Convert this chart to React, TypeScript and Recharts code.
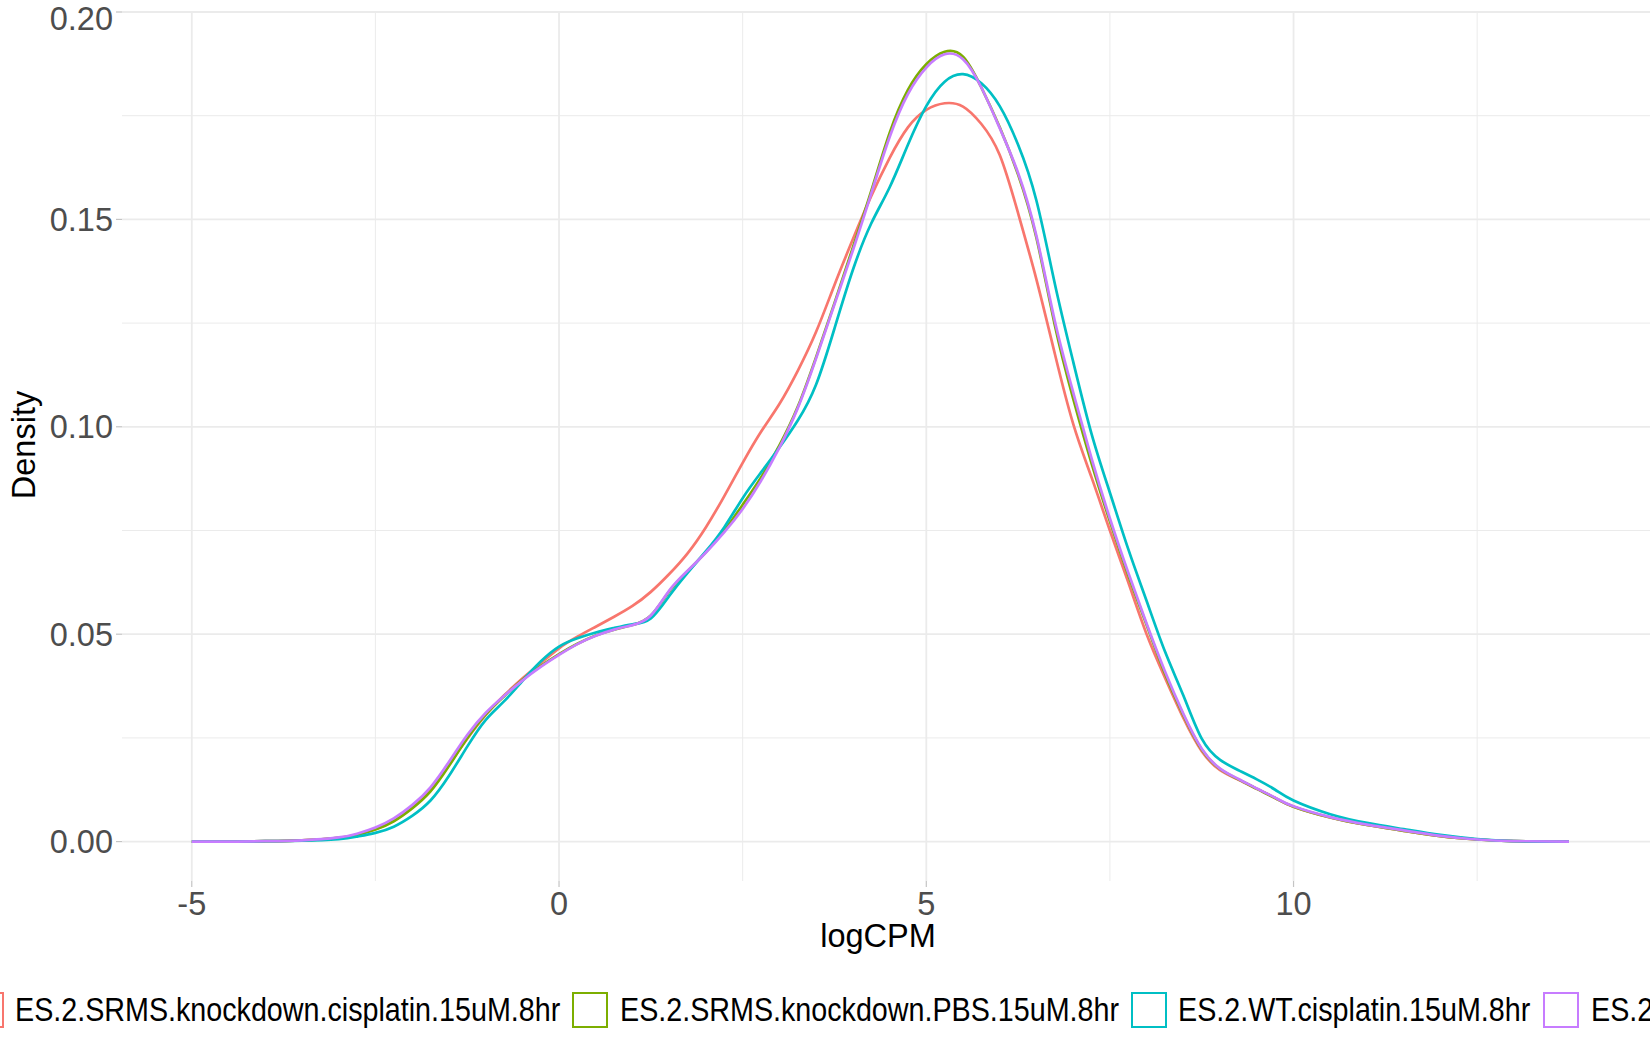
import { LineChart, Line, XAxis, YAxis, ReferenceLine } from "recharts";

// logCPM grid the densities were read on
const logCPM = [
  -5, -4.5, -4, -3.5, -3, -2.75, -2.5, -2.25, -2, -1.75, -1.5, -1.25, -1, -0.75, -0.5, -0.25,
  0, 0.25, 0.5, 0.75, 1, 1.25, 1.5, 1.75, 2, 2.25, 2.5, 2.75, 3, 3.25, 3.5, 3.75,
  4, 4.25, 4.5, 4.75, 5, 5.25, 5.5, 5.75, 6, 6.25, 6.5, 6.75, 7, 7.25, 7.5, 7.75,
  8, 8.25, 8.5, 8.75, 9, 9.25, 9.5, 9.75, 10, 10.5, 11, 11.5, 12, 12.5, 13, 13.75,
];

const koCisplatin = [
  0, 0, 0.0001, 0.0003, 0.0009, 0.0017, 0.003, 0.005, 0.0082, 0.0125, 0.0185, 0.0248, 0.0305, 0.0352, 0.0393, 0.043,
  0.0466, 0.0494, 0.0518, 0.0542, 0.0568, 0.0602, 0.0645, 0.0695, 0.0758, 0.0833, 0.0913, 0.0988, 0.1055, 0.1135, 0.1229, 0.1342,
  0.1452, 0.1556, 0.1648, 0.1722, 0.1764, 0.178, 0.1772, 0.173, 0.1655, 0.1515, 0.1355, 0.1176, 0.1007, 0.0878, 0.075, 0.0625,
  0.05, 0.0395, 0.0298, 0.0218, 0.0172, 0.0149, 0.0127, 0.0105, 0.0084, 0.0058, 0.004, 0.0026, 0.0013, 0.0005, 0.0001, 0,
];

const koPBS = [
  0, 0, 0.0001, 0.0003, 0.0009, 0.0016, 0.0029, 0.0049, 0.008, 0.0121, 0.0182, 0.0249, 0.0306, 0.035, 0.039, 0.0423,
  0.0452, 0.0477, 0.0497, 0.0511, 0.0522, 0.0545, 0.0603, 0.0652, 0.0698, 0.075, 0.0812, 0.0878, 0.0955, 0.1048, 0.1168, 0.1298,
  0.1432, 0.1568, 0.1708, 0.1812, 0.1874, 0.1904, 0.1892, 0.1818, 0.1722, 0.1608, 0.1455, 0.1245, 0.1068, 0.0912, 0.0772, 0.0642,
  0.0522, 0.0405, 0.0305, 0.0222, 0.0175, 0.015, 0.0127, 0.0105, 0.0084, 0.0058, 0.004, 0.0026, 0.0013, 0.0005, 0.0001, 0,
];

const wtCisplatin = [
  0, 0, 0.0001, 0.0002, 0.0006, 0.0012, 0.0021, 0.0036, 0.0062, 0.0099, 0.0158, 0.0229, 0.0293, 0.0338, 0.0387, 0.0434,
  0.047, 0.049, 0.0504, 0.0515, 0.0524, 0.0538, 0.0592, 0.0648, 0.07, 0.0758, 0.0828, 0.089, 0.095, 0.1015, 0.1102, 0.1237,
  0.1378, 0.149, 0.1577, 0.168, 0.1773, 0.1832, 0.185, 0.1828, 0.1773, 0.168, 0.1545, 0.1345, 0.1157, 0.0983, 0.0841, 0.0705,
  0.058, 0.0458, 0.0352, 0.0248, 0.0197, 0.0172, 0.015, 0.0125, 0.0099, 0.0066, 0.0045, 0.003, 0.0016, 0.0006, 0.0001, 0,
];

const wtPBS = [
  0, 0, 0.0001, 0.0003, 0.001, 0.0019, 0.0034, 0.0056, 0.0088, 0.0131, 0.0192, 0.0257, 0.031, 0.0351, 0.0388, 0.0421,
  0.045, 0.0476, 0.0496, 0.0511, 0.0522, 0.0545, 0.0605, 0.0653, 0.0697, 0.0746, 0.0802, 0.087, 0.095, 0.1045, 0.1165, 0.1295,
  0.1425, 0.1562, 0.1698, 0.1802, 0.1866, 0.1898, 0.1886, 0.1818, 0.172, 0.1612, 0.146, 0.1255, 0.1083, 0.0924, 0.0779, 0.0648,
  0.0525, 0.041, 0.0308, 0.0224, 0.0176, 0.0151, 0.0128, 0.0106, 0.0085, 0.0059, 0.0041, 0.0027, 0.0014, 0.0005, 0.0001, 0,
];

const seriesNames = [
  "ES.2.SRMS.knockdown.cisplatin.15uM.8hr",
  "ES.2.SRMS.knockdown.PBS.15uM.8hr",
  "ES.2.WT.cisplatin.15uM.8hr",
  "ES.2.WT.PBS.15uM.8hr",
];
const seriesColors = ["#F8766D", "#7CAE00", "#00BFC4", "#C77CFF"];
const seriesValues = [koCisplatin, koPBS, wtCisplatin, wtPBS];

const xTicks = [-5, 0, 5, 10];
const xMinor = [-2.5, 2.5, 7.5, 12.5];
const yTicks = [0, 0.05, 0.1, 0.15, 0.2];
const yMinor = [0.025, 0.075, 0.125, 0.175];

const rows = logCPM.map((x, i) => {
  const r: Record<string, number> = { x };
  seriesValues.forEach((vals, s) => {
    r[`s${s}`] = vals[i];
  });
  return r;
});

const FONT = "'Liberation Sans', Arial, Helvetica, sans-serif";
const GRID = "#EBEBEB";

// legend keys and label starts, left to right (the row is wider than the image)
const legendKeyX = [-31, 573, 1132, 1544];
const legendTextX = [15, 620, 1178, 1591];

export default function App() {
  return (
    <div
      style={{
        position: "absolute",
        left: 0,
        top: 0,
        width: 1650,
        height: 1050,
        overflow: "hidden",
        background: "#fff",
        fontFamily: FONT,
      }}
    >
      <LineChart width={1650} height={1050} data={rows} margin={{ top: 12, right: 0, bottom: 0, left: 0 }}>
        {yMinor.map((v) => (
          <ReferenceLine key={`ym${v}`} y={v} stroke={GRID} strokeWidth={1} />
        ))}
        {xMinor.map((v) => (
          <ReferenceLine key={`xm${v}`} x={v} stroke={GRID} strokeWidth={1} />
        ))}
        {yTicks.map((v) => (
          <ReferenceLine key={`y${v}`} y={v} stroke={GRID} strokeWidth={1.8} />
        ))}
        {xTicks.map((v) => (
          <ReferenceLine key={`x${v}`} x={v} stroke={GRID} strokeWidth={1.8} />
        ))}
        <XAxis
          dataKey="x"
          type="number"
          domain={[-5.95, 14.853]}
          allowDataOverflow
          ticks={xTicks}
          height={169}
          axisLine={false}
          tickSize={6}
          tickMargin={5}
          tickLine={{ stroke: "#C4C4C4", strokeWidth: 1.2 }}
          tick={{ fill: "#4D4D4D", fontSize: 32.5, fontFamily: FONT }}
        />
        <YAxis
          type="number"
          domain={[-0.0095, 0.2]}
          allowDataOverflow
          ticks={yTicks}
          width={122}
          axisLine={false}
          tickSize={6}
          tickMargin={3}
          tickLine={{ stroke: "#C4C4C4", strokeWidth: 1.2 }}
          tickFormatter={(v: number) => v.toFixed(2)}
          tick={{ fill: "#4D4D4D", fontSize: 32.5, fontFamily: FONT }}
        />
        {seriesNames.map((name, s) => (
          <Line
            key={name}
            name={name}
            dataKey={`s${s}`}
            type="natural"
            stroke={seriesColors[s]}
            strokeWidth={2.7}
            dot={false}
            activeDot={false}
            isAnimationActive={false}
          />
        ))}
      </LineChart>
      <svg
        width={1650}
        height={1050}
        style={{ position: "absolute", left: 0, top: 0, pointerEvents: "none" }}
        fontFamily={FONT}
      >
        <text x={878} y={947} textAnchor="middle" fontSize={32.5} fill="#000">
          logCPM
        </text>
        <text transform="translate(35,445) rotate(-90)" textAnchor="middle" fontSize={32.5} fill="#000">
          Density
        </text>
        {seriesNames.map((name, s) => (
          <g key={name}>
            <rect
              x={legendKeyX[s]}
              y={993}
              width={34}
              height={34}
              fill="#fff"
              stroke={seriesColors[s]}
              strokeWidth={2}
            />
            <text transform={`translate(${legendTextX[s]},1021) scale(0.883,1)`} fontSize={32.5} fill="#000">
              {name}
            </text>
          </g>
        ))}
      </svg>
    </div>
  );
}
